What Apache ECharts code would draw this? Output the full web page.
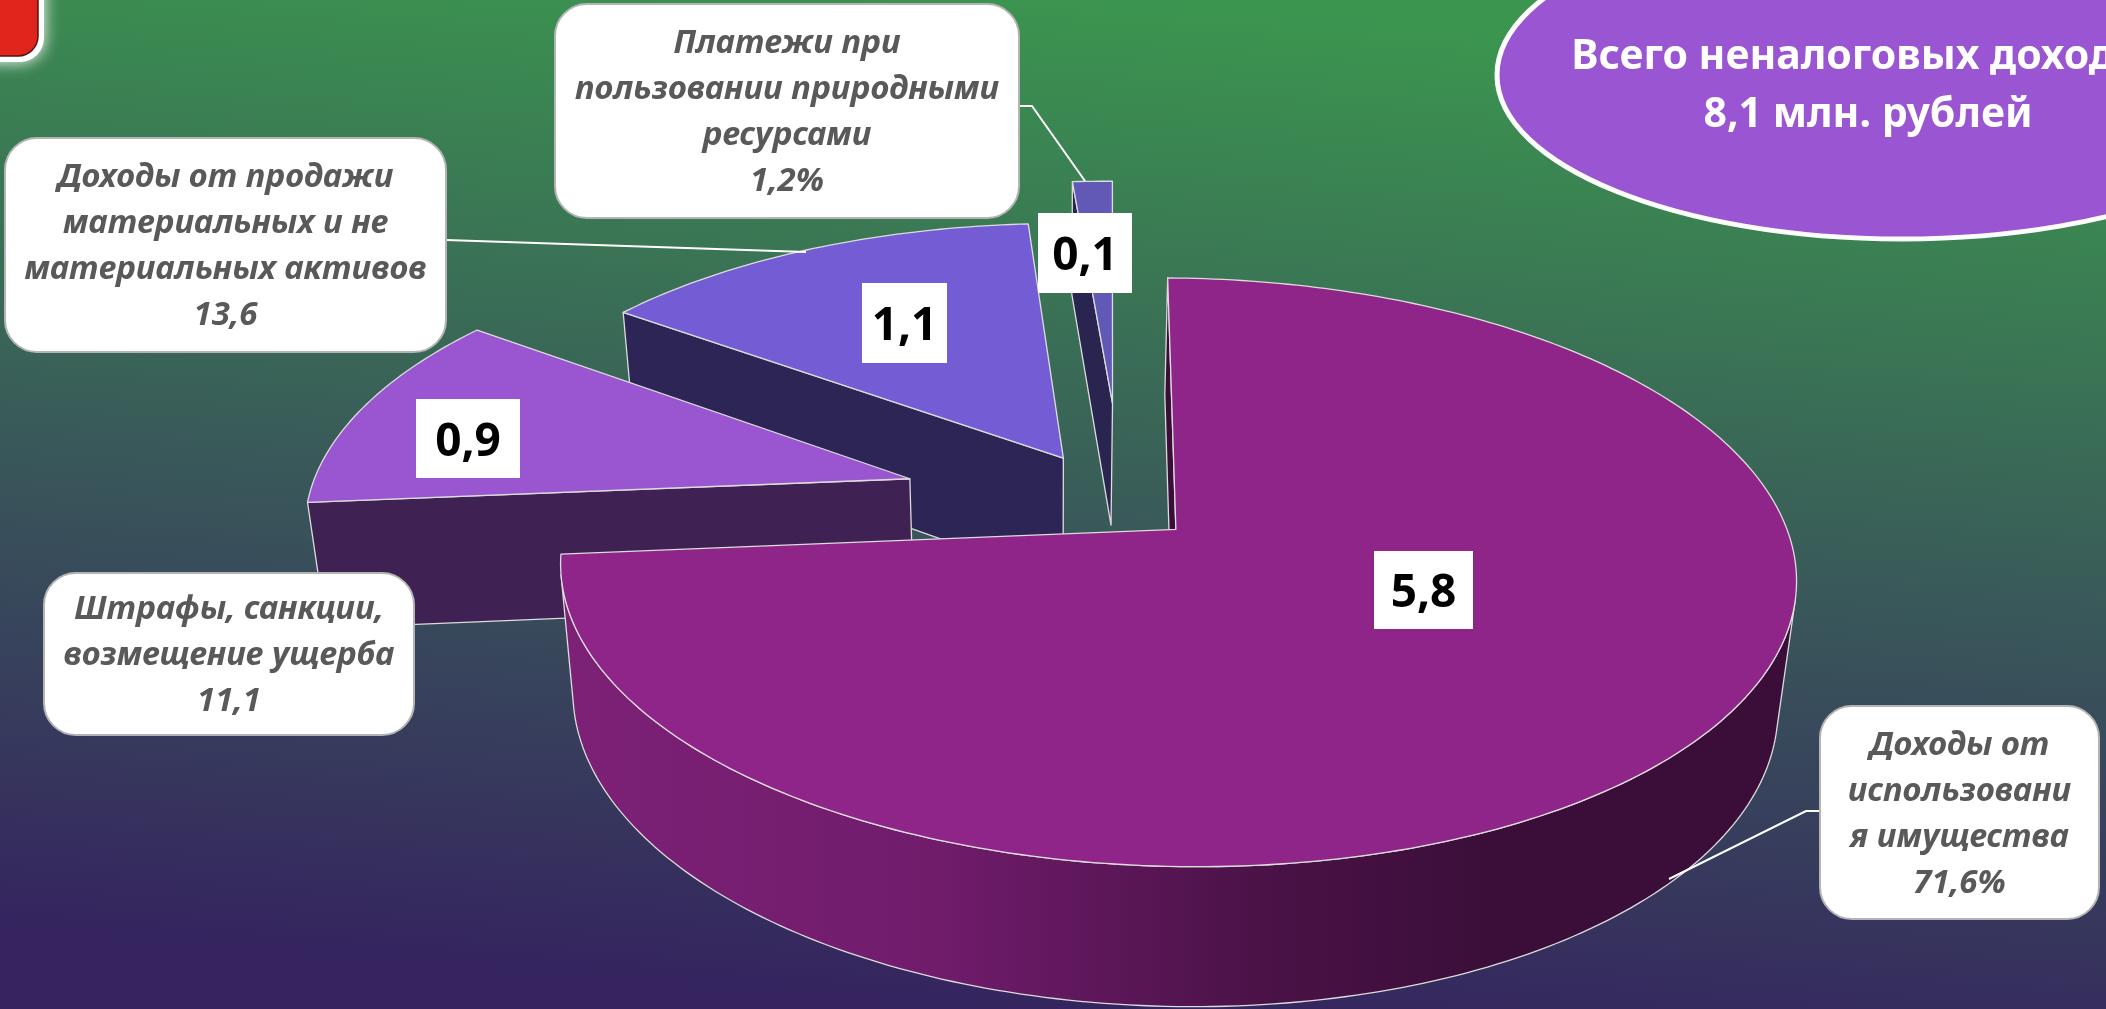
<!DOCTYPE html>
<html><head><meta charset="utf-8">
<style>html,body{margin:0;padding:0;background:#39595a}#c{width:2106px;height:1009px}</style>
<script src="https://cdn.jsdelivr.net/npm/echarts@6/dist/echarts.min.js"></script>
</head><body><div id="c"></div>
<script>
// ---- data ----
const categories = ['Доходы от\nиспользовани\nя имущества','Штрафы, санкции,\nвозмещение ущерба','Доходы от продажи\nматериальных и не\nматериальных активов','Платежи при\nпользовании природными\nресурсами'];
const sliceValues = [5.8, 0.9, 1.1, 0.1];
const shareLabels = ['71,6%', '11,1', '13,6', '1,2%'];
const titleLines = 'Всего неналоговых доходов\n8,1 млн. рублей';

// ---- styles / layout ----
const topColors  = ['#8f2588','#9a55d0','#745cd4','#6258b5'];
const wallColors = ['#3a0e38','#3f2153','#2d2555','#2a2450'];
const explode    = [0.119, 0.368, 0.2, 0.386];
const drawOrder  = [3, 2, 1, 0];
const startAngleDeg = 0.8;
const valueBoxes = [[1374,551,99,78],[416,399,104,79],[862,283,85,80],[1038,213,94,80]];
const calloutBoxes = [[1820,706,279,213],[44,573,370,162],[5,138,441,214],[555,4,464,214]];
const leaders = [[[1820,811],[1806,811],[1669,879]],null,[[446,240],[806,252]],[[1019,106],[1032,106],[1085,181]]];
const CAM = {cx:1053, cy:529, rx:611, ry:288, p:0.146, depth:130, shrink:0.025, ox:0.114, oy:-0.08};
const FONT = '"Noto Sans"';

function project(X, Y, z){
  const f = 1/(1 - CAM.p*Y) * (1 - CAM.shrink*z);
  return [CAM.cx + X*CAM.rx*f, CAM.cy + (Y*CAM.ry + z*CAM.depth)*f];
}
const total = sliceValues.reduce((a,b)=>a+b,0);
const starts = []; sliceValues.reduce((acc,v,i)=>{starts[i]=acc; return acc+v/total*Math.PI*2;},startAngleDeg*Math.PI/180);
function area(pts){let s=0;for(let i=0;i<pts.length;i++){const a=pts[i],b=pts[(i+1)%pts.length];s+=a[0]*b[1]-b[0]*a[1];}return s/2;}
const edge = {stroke:'#dcdcdc', lineWidth:1.3, lineJoin:'round'};

function renderSlice(params, api){
  const i = api.value(0), v = api.value(1);
  const a0 = starts[i], a1 = a0 + v/total*Math.PI*2, mid=(a0+a1)/2;
  const ax = CAM.ox + explode[i]*Math.sin(mid), ay = CAM.oy - explode[i]*Math.cos(mid);
  const pt = (t,z)=>project(ax+Math.sin(t), ay-Math.cos(t), z);
  const n = Math.max(6, Math.ceil((a1-a0)/(Math.PI/180)));
  const ts=[]; for(let k=0;k<=n;k++) ts.push(a0+(a1-a0)*k/n);
  const apexT=project(ax,ay,0), apexB=project(ax,ay,1);
  const children=[];
  const wall = i===0 ? {type:'linear',x:560,y:0,x2:1500,y2:0,global:true,colorStops:[{offset:0,color:'#7d2177'},{offset:0.4,color:'#701c6b'},{offset:0.75,color:'#4a1247'},{offset:1,color:'#3a0e38'}]} : wallColors[i];
  [[apexT,apexB,pt(ts[0],0),pt(ts[0],1)],[pt(ts[n],0),pt(ts[n],1),apexT,apexB]].forEach(e=>{
    const q=[e[0],e[2],e[3],e[1]];
    if(area(q)<0) children.push({type:'polygon',shape:{points:q},style:Object.assign({fill:i===0?'#3a0e38':wallColors[i]},edge)});
  });
  let run=[];
  const flush=()=>{ if(run.length>1){
      const up=run.map(t=>pt(t,0)), dn=run.map(t=>pt(t,1)).reverse();
      children.push({type:'polygon',shape:{points:up.concat(dn)},style:Object.assign({fill:wall},edge)});
    } run=[]; };
  for(let k=0;k<n;k++){
    const q=[pt(ts[k],0),pt(ts[k+1],0),pt(ts[k+1],1),pt(ts[k],1)];
    if(area(q)<0){ if(!run.length) run.push(ts[k]); run.push(ts[k+1]); } else flush();
  }
  flush();
  const top=[apexT].concat(ts.map(t=>pt(t,0)));
  children.push({type:'polygon',shape:{points:top},style:Object.assign({fill:topColors[i]},edge)});
  children.forEach(c=>{c.z2=drawOrder.indexOf(i)*10;});
  return {type:'group',children};
}
function renderValueLabel(params, api){
  const i=api.value(0), v=api.value(1), b=valueBoxes[i];
  return {type:'group',children:[
    {type:'rect',shape:{x:b[0],y:b[1],width:b[2],height:b[3]},style:{fill:'#fff'},z2:100},
    {type:'text',style:{text:String(v).replace('.',','),x:b[0]+b[2]/2,y:b[1]+b[3]/2+4,align:'center',verticalAlign:'middle',font:'bold 46px '+FONT,fill:'#000'},z2:101}
  ]};
}
function renderCallout(params, api){
  const i=api.value(0), b=calloutBoxes[i], ch=[];
  if(leaders[i]) ch.push({type:'polyline',shape:{points:leaders[i]},style:{stroke:'#fff',lineWidth:2,fill:null},z2:90});
  ch.push({type:'rect',shape:{x:b[0],y:b[1],width:b[2],height:b[3],r:32},style:{fill:'#fff',stroke:'#b4b4b4',lineWidth:2},z2:100});
  ch.push({type:'text',style:{text:categories[i]+'\n'+shareLabels[i],x:b[0]+b[2]/2,y:b[1]+b[3]/2+2,align:'center',verticalAlign:'middle',font:'italic bold 33px '+FONT,lineHeight:46,fill:'#595959'},z2:101});
  return {type:'group',children:ch};
}
const rows = drawOrder.map(i=>[i, sliceValues[i]]);
const chart = echarts.init(document.getElementById('c'),null,{renderer:'canvas'});
chart.setOption({
  animation:false,
  backgroundColor:{type:'linear',x:0.52,y:0,x2:0.48,y2:1,colorStops:[{offset:0,color:'#3b954f'},{offset:0.5,color:'#395b59'},{offset:1,color:'#35245f'}]},
  graphic:[
    {type:'rect',z:1,shape:{x:-30,y:-30,width:74,height:92,r:24},style:{fill:'#fff',shadowBlur:16,shadowColor:'#fff'}},
    {type:'rect',z:1,shape:{x:-30,y:-30,width:68,height:86,r:20},style:{fill:'#e0261c',stroke:'#5a1010',lineWidth:1.5}},
    {type:'ellipse',z:1,shape:{cx:1902,cy:75,rx:405,ry:164},style:{fill:'#9a55d2',stroke:'#fff',lineWidth:5}},
    {type:'text',z:3,style:{text:titleLines,x:1868,y:86,align:'center',verticalAlign:'middle',font:'bold 41px '+FONT,lineHeight:58,fill:'#fff'}}
  ],
  series:[
    {type:'custom',coordinateSystem:'none',z:2,silent:true,data:rows,renderItem:renderSlice},
    {type:'custom',coordinateSystem:'none',z:4,silent:true,data:rows,renderItem:renderValueLabel},
    {type:'custom',coordinateSystem:'none',z:5,silent:true,data:rows,renderItem:renderCallout}
  ]
});
</script></body></html>
